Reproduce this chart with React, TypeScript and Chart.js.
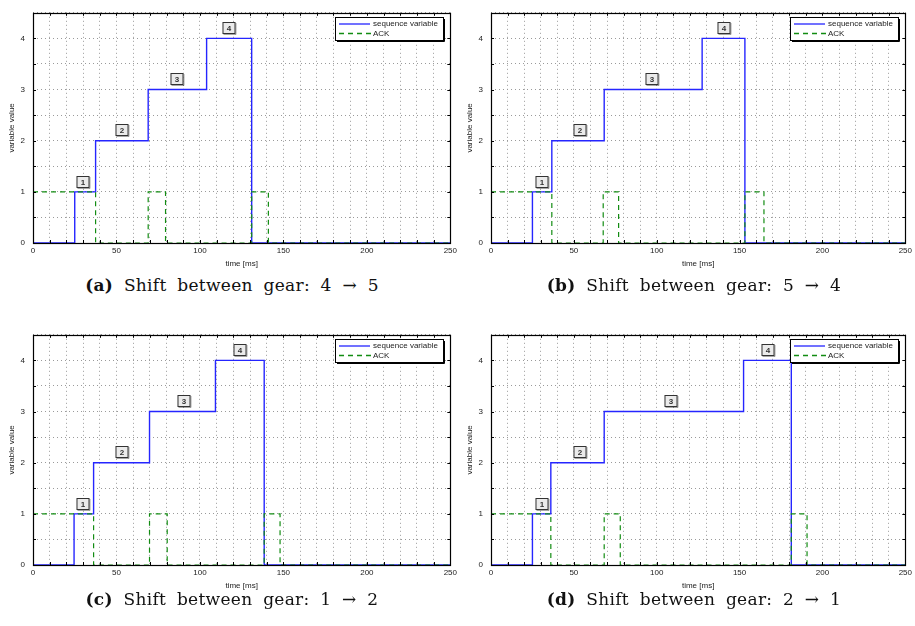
import React, { useEffect, useRef } from "react";
import { Chart, registerables } from "chart.js";

Chart.register(...registerables);

// ---- data (time in ms, value) ----
const seqA_t = [0, 25, 37.5, 69, 104, 131, 250];
const seqA_v = [0, 1, 2, 3, 4, 0, 0];
const ackA_t = [0, 37.5, 69, 79.4, 131, 141, 250];
const ackA_v = [1, 0, 1, 0, 1, 0, 0];
const lblA_x = [29.8, 53.2, 86.3, 117.5];

const seqB_t = [0, 25, 36.7, 68.3, 127.4, 153.2, 250];
const seqB_v = [0, 1, 2, 3, 4, 0, 0];
const ackB_t = [0, 36.7, 67.7, 77, 153.2, 164.7, 250];
const ackB_v = [1, 0, 1, 0, 1, 0, 0];
const lblB_x = [30.6, 54, 97.2, 140.3];

const seqC_t = [0, 24.6, 36.3, 69.8, 109.3, 138.5, 250];
const seqC_v = [0, 1, 2, 3, 4, 0, 0];
const ackC_t = [0, 36.3, 69.8, 80.4, 138.5, 148, 250];
const ackC_v = [1, 0, 1, 0, 1, 0, 0];
const lblC_x = [30, 53.2, 90.3, 124];

const seqD_t = [0, 25, 36.1, 68.3, 152.4, 181.2, 250];
const seqD_v = [0, 1, 2, 3, 4, 0, 0];
const ackD_t = [0, 36.1, 68.3, 78, 181.2, 190.7, 250];
const ackD_v = [1, 0, 1, 0, 1, 0, 0];
const lblD_x = [30.6, 54, 108.5, 167];

const lbl_y = [1.2, 2.2, 3.2, 4.2];
const lbl_text = ["1", "2", "3", "4"];

const seriesNames = ["sequence variable", "ACK"];
const xLabel = "time [ms]";
const yLabel = "variable value";
const xMin = 0, xMax = 250, yMin = 0, yMax = 4.5;

const captions = [
  { tag: "(a)", text: "Shift between gear: 4 → 5" },
  { tag: "(b)", text: "Shift between gear: 5 → 4" },
  { tag: "(c)", text: "Shift between gear: 1 → 2" },
  { tag: "(d)", text: "Shift between gear: 2 → 1" },
];

const BLUE = "#2525ff";
const GREEN = "#128c12";
const FONT = "'Liberation Sans', Arial, sans-serif";

const toPts = (t: number[], v: number[]) => t.map((x, i) => ({ x, y: v[i] }));

const framePlugin = {
  id: "frame",
  afterDatasetsDraw(chart: any, _a: any, opts: any) {
    const { ctx, chartArea: ca, scales } = chart;
    const xs = scales.x, ys = scales.y;
    ctx.save();
    // boxed labels
    ctx.font = `bold 8px ${FONT}`;
    ctx.textAlign = "center";
    ctx.textBaseline = "middle";
    (opts.lx || []).forEach((lx: number, i: number) => {
      const px = Math.round(xs.getPixelForValue(lx));
      const py = Math.round(ys.getPixelForValue(opts.ly[i]));
      const w = 13, h = 12;
      ctx.fillStyle = "#ebebeb";
      ctx.fillRect(px - w / 2, py - h / 2, w, h);
      ctx.strokeStyle = "#333";
      ctx.lineWidth = 1;
      ctx.strokeRect(px - w / 2 + 0.5, py - h / 2 + 0.5, w - 1, h - 1);
      ctx.strokeStyle = "rgba(0,0,0,0.35)";
      ctx.beginPath();
      ctx.moveTo(px - w / 2 + 1, py + h / 2 + 0.5);
      ctx.lineTo(px + w / 2 + 0.5, py + h / 2 + 0.5);
      ctx.lineTo(px + w / 2 + 0.5, py - h / 2 + 1);
      ctx.stroke();
      ctx.fillStyle = "#333";
      ctx.fillText(opts.lt[i], px, py + 0.5);
    });
    // inward ticks
    ctx.strokeStyle = "#000";
    ctx.lineWidth = 1;
    ctx.beginPath();
    for (let v = xMin; v <= xMax; v += 10) {
      const p = Math.round(xs.getPixelForValue(v)) + 0.5;
      ctx.moveTo(p, ca.bottom); ctx.lineTo(p, ca.bottom - 3);
      ctx.moveTo(p, ca.top); ctx.lineTo(p, ca.top + 3);
    }
    for (let v = yMin; v <= yMax + 1e-9; v += 0.5) {
      const p = Math.round(ys.getPixelForValue(v)) + 0.5;
      ctx.moveTo(ca.left, p); ctx.lineTo(ca.left + 3, p);
      ctx.moveTo(ca.right, p); ctx.lineTo(ca.right - 3, p);
    }
    ctx.stroke();
    // frame
    ctx.lineWidth = 1.2;
    ctx.strokeRect(Math.round(ca.left) + 0.5, Math.round(ca.top) + 0.5, Math.round(ca.right - ca.left), Math.round(ca.bottom - ca.top));
    // legend
    const lw = 108, lh = 23;
    const lx0 = Math.round(ca.right - 7 - lw), ly0 = Math.round(ca.top + 4);
    ctx.fillStyle = "#fff";
    ctx.fillRect(lx0, ly0, lw, lh);
    ctx.strokeStyle = "#000";
    ctx.lineWidth = 1;
    ctx.strokeRect(lx0 + 0.5, ly0 + 0.5, lw, lh);
    ctx.lineWidth = 1;
    ctx.beginPath();
    ctx.moveTo(lx0 + 2, ly0 + lh + 1.5); ctx.lineTo(lx0 + lw + 1.5, ly0 + lh + 1.5); ctx.lineTo(lx0 + lw + 1.5, ly0 + 2);
    ctx.stroke();
    const r1 = ly0 + 7, r2 = ly0 + 16.5;
    ctx.lineWidth = 1.3;
    ctx.strokeStyle = BLUE;
    ctx.beginPath(); ctx.moveTo(lx0 + 4, r1); ctx.lineTo(lx0 + 35, r1); ctx.stroke();
    ctx.strokeStyle = GREEN;
    ctx.setLineDash([5, 4]);
    ctx.beginPath(); ctx.moveTo(lx0 + 4, r2); ctx.lineTo(lx0 + 36, r2); ctx.stroke();
    ctx.setLineDash([]);
    ctx.fillStyle = "#222";
    ctx.font = `8px ${FONT}`;
    ctx.textAlign = "left";
    ctx.fillText(seriesNames[0], lx0 + 38, r1);
    ctx.fillText(seriesNames[1], lx0 + 38, r2);
    ctx.restore();
  },
};

type PanelProps = {
  left: number; top: number; width: number; height: number; padRight: number;
  seqT: number[]; seqV: number[]; ackT: number[]; ackV: number[]; lx: number[];
};

function Panel(p: PanelProps) {
  const ref = useRef<HTMLCanvasElement>(null);
  useEffect(() => {
    if (!ref.current) return;
    const chart = new Chart(ref.current, {
      type: "line",
      data: {
        datasets: [
          {
            label: seriesNames[1],
            data: toPts(p.ackT, p.ackV),
            borderColor: GREEN,
            borderWidth: 1.2,
            borderDash: [5, 4],
            stepped: "before",
            pointRadius: 0,
            fill: false,
          },
          {
            label: seriesNames[0],
            data: toPts(p.seqT, p.seqV),
            borderColor: BLUE,
            borderWidth: 1.4,
            stepped: "before",
            pointRadius: 0,
            fill: false,
          },
        ],
      },
      options: {
        animation: false,
        responsive: false,
        devicePixelRatio: 1,
        layout: { padding: { top: 12, right: p.padRight, left: 0, bottom: 0 } },
        plugins: {
          legend: { display: false },
          tooltip: { enabled: false },
          frame: { lx: p.lx, ly: lbl_y, lt: lbl_text },
        } as any,
        scales: {
          x: {
            type: "linear",
            min: xMin,
            max: xMax,
            afterFit: (s: any) => { s.height = 32; },
            border: { display: false, dash: [1, 3] },
            grid: { color: "#9a9a9a", lineWidth: 1, drawTicks: false },
            ticks: {
              stepSize: 10,
              autoSkip: false,
              maxRotation: 0,
              padding: 3,
              color: "#222",
              font: { size: 8, family: FONT },
              callback: (v: any) => (Number(v) % 50 === 0 ? String(v) : ""),
            },
            title: {
              display: true,
              text: xLabel,
              color: "#222",
              font: { size: 8, family: FONT },
              padding: { top: 0, bottom: 6 },
            },
          },
          y: {
            type: "linear",
            min: yMin,
            max: yMax,
            afterFit: (s: any) => { s.width = 33; },
            border: { display: false, dash: [1, 3] },
            grid: { color: "#9a9a9a", lineWidth: 1, drawTicks: false },
            ticks: {
              stepSize: 0.5,
              autoSkip: false,
              padding: 8,
              color: "#222",
              font: { size: 8, family: FONT },
              callback: (v: any) => (Number.isInteger(Number(v)) ? String(v) : ""),
            },
            title: {
              display: true,
              text: yLabel,
              color: "#222",
              font: { size: 8, family: FONT },
              padding: { top: 7, bottom: 0 },
            },
          },
        },
      },
      plugins: [framePlugin],
    });
    return () => chart.destroy();
  }, []);
  return (
    <canvas
      ref={ref}
      width={p.width}
      height={p.height}
      style={{ position: "absolute", left: p.left, top: p.top, width: p.width, height: p.height, display: "block" }}
    />
  );
}

function Caption({ i, cx, top }: { i: number; cx: number; top: number }) {
  return (
    <div
      style={{
        position: "absolute",
        left: cx - 220,
        width: 440,
        top,
        textAlign: "center",
        fontFamily: "'DejaVu Serif', 'Liberation Serif', serif",
        fontSize: 17,
        letterSpacing: 0.3,
        wordSpacing: 5,
        color: "#111",
        whiteSpace: "nowrap",
      }}
    >
      <b>{captions[i].tag}</b> {captions[i].text}
    </div>
  );
}

export default function App() {
  return (
    <div style={{ position: "fixed", left: 0, top: 0, width: 915, height: 626, background: "#fff", overflow: "hidden" }}>
      <Panel left={0} top={0} width={460} height={275} padRight={7} seqT={seqA_t} seqV={seqA_v} ackT={ackA_t} ackV={ackA_v} lx={lblA_x} />
      <Panel left={458} top={0} width={457} height={275} padRight={4} seqT={seqB_t} seqV={seqB_v} ackT={ackB_t} ackV={ackB_v} lx={lblB_x} />
      <Panel left={0} top={322} width={460} height={275} padRight={7} seqT={seqC_t} seqV={seqC_v} ackT={ackC_t} ackV={ackC_v} lx={lblC_x} />
      <Panel left={458} top={322} width={457} height={275} padRight={4} seqT={seqD_t} seqV={seqD_v} ackT={ackD_t} ackV={ackD_v} lx={lblD_x} />
      <Caption i={0} cx={232} top={275} />
      <Caption i={1} cx={694} top={275} />
      <Caption i={2} cx={232} top={589} />
      <Caption i={3} cx={694} top={589} />
    </div>
  );
}
